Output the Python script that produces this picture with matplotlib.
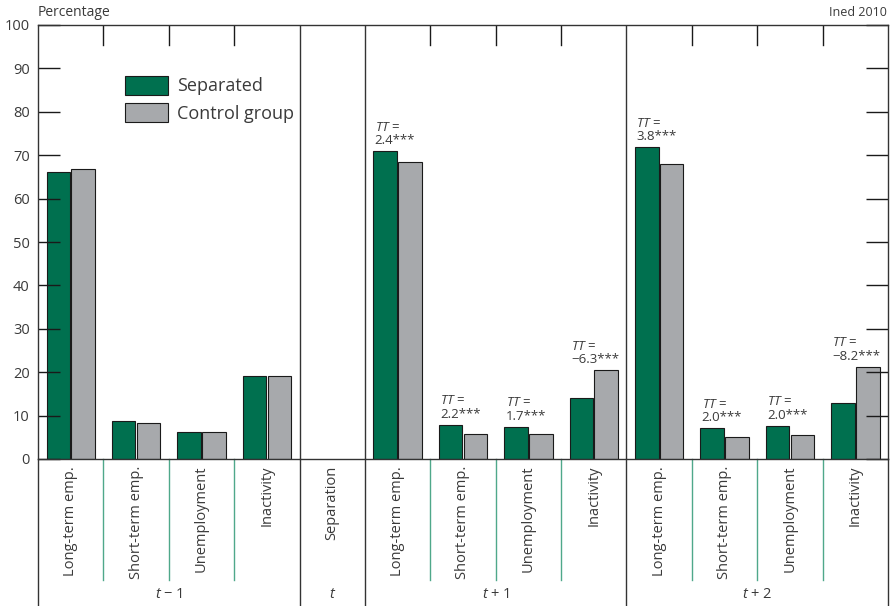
import matplotlib
matplotlib.use("Agg")
import matplotlib.pyplot as plt
from matplotlib.transforms import blended_transform_factory
from matplotlib.patches import Patch

plt.rcParams["font.family"] = ["Open Sans", "DejaVu Sans"]
plt.rcParams["mathtext.fontset"] = "custom"
plt.rcParams["mathtext.rm"] = "Open Sans"
plt.rcParams["mathtext.it"] = "Open Sans:italic"

# Slot layout: 13 slots across four periods
periods = [r"$t$ − 1", r"$t$", r"$t$ + 1", r"$t$ + 2"]
period_slots = [4, 1, 4, 4]
states = ["Long-term emp.", "Short-term emp.", "Unemployment", "Inactivity"]
slot_labels = states + ["Separation"] + states + states

# Percentages per slot (None = no bar)
separated = [66.2, 8.7, 6.3, 19.1, None, 70.9, 7.9, 7.4, 14.1, 71.8, 7.1, 7.6, 13.0]
control = [66.8, 8.2, 6.3, 19.1, None, 68.5, 5.7, 5.7, 20.4, 68.0, 5.1, 5.6, 21.2]
tt_labels = [None, None, None, None, None,
             "2.4***", "2.2***", "1.7***", "−6.3***",
             "3.8***", "2.0***", "2.0***", "−8.2***"]

GREEN = "#00704f"
GREY = "#a7a9ac"
TEXT = "#3a3a3a"
SEP_GREEN = "#4fa88a"

fig = plt.figure(figsize=(8.91, 6.06), dpi=100)
ax = fig.add_axes([38 / 891, 1 - 459 / 606, 850 / 891, 434 / 606])

n = len(slot_labels)
bw = 0.36
off = 0.19
for i in range(n):
    c = i + 0.5
    if separated[i] is not None:
        ax.bar(c - off, separated[i], width=bw, color=GREEN, edgecolor="#1a1a1a", linewidth=0.8)
        ax.bar(c + off, control[i], width=bw, color=GREY, edgecolor="#1a1a1a", linewidth=0.8)
    if tt_labels[i] is not None:
        top = max(separated[i], control[i])
        ax.annotate(r"$\it{TT}$ =" + "\n" + tt_labels[i],
                    xy=(c - off - bw / 2 + 0.02, top), xytext=(0, 3),
                    textcoords="offset points", ha="left", va="bottom",
                    fontsize=9.5, color=TEXT, linespacing=1.05)

ax.set_xlim(0, n)
ax.set_ylim(0, 100)
ax.set_yticks(range(0, 101, 10))
ax.tick_params(axis="y", direction="in", length=16, width=1, color="#1a1a1a",
               labelsize=10.5, labelcolor=TEXT, right=True, pad=6)
ax.set_xticks([])
for s in ax.spines.values():
    s.set_color("#333333")
    s.set_linewidth(1)

# Period boundaries (full height) and top ticks within periods
bounds = [0]
for k in period_slots:
    bounds.append(bounds[-1] + k)
trans = blended_transform_factory(ax.transData, ax.transAxes)
for b in bounds[1:-1]:
    ax.axvline(b, color="#333333", linewidth=1)
for p in range(len(period_slots)):
    for b in range(bounds[p] + 1, bounds[p + 1]):
        ax.plot([b, b], [1, 1 - 20 / 434], color="#1a1a1a", linewidth=1, transform=trans)
        ax.plot([b, b], [0, -121 / 434], color=SEP_GREEN, linewidth=1,
                transform=trans, clip_on=False)
for b in bounds:
    ax.plot([b, b], [0, -147 / 434], color="#333333", linewidth=1,
            transform=trans, clip_on=False)

# Slot and period labels
for i, lab in enumerate(slot_labels):
    ax.text(i + 0.5, -7 / 434, lab, rotation=90, ha="center", va="top",
            fontsize=10.5, color=TEXT, transform=trans)
for p, lab in enumerate(periods):
    cx = (bounds[p] + bounds[p + 1]) / 2
    ax.text(cx, -136 / 434, lab, ha="center", va="center", fontsize=10.5,
            color=TEXT, transform=trans)

# Legend
handles = [Patch(facecolor=GREEN, edgecolor="#1a1a1a", linewidth=0.8, label="Separated"),
           Patch(facecolor=GREY, edgecolor="#1a1a1a", linewidth=0.8, label="Control group")]
leg = ax.legend(handles=handles, loc="upper left", bbox_to_anchor=(87 / 850, 1 - 51 / 434),
                frameon=False, fontsize=13, handlelength=2.4, handleheight=1.2,
                labelspacing=0.45, handletextpad=0.5, borderaxespad=0, borderpad=0)
for t in leg.get_texts():
    t.set_color(TEXT)

fig.text(38 / 891, 1 - 13 / 606, "Percentage", ha="left", va="center", fontsize=10, color=TEXT)
fig.text(887 / 891, 1 - 13 / 606, "Ined 2010", ha="right", va="center", fontsize=9, color=TEXT)

fig.savefig("out.png", dpi=100)
